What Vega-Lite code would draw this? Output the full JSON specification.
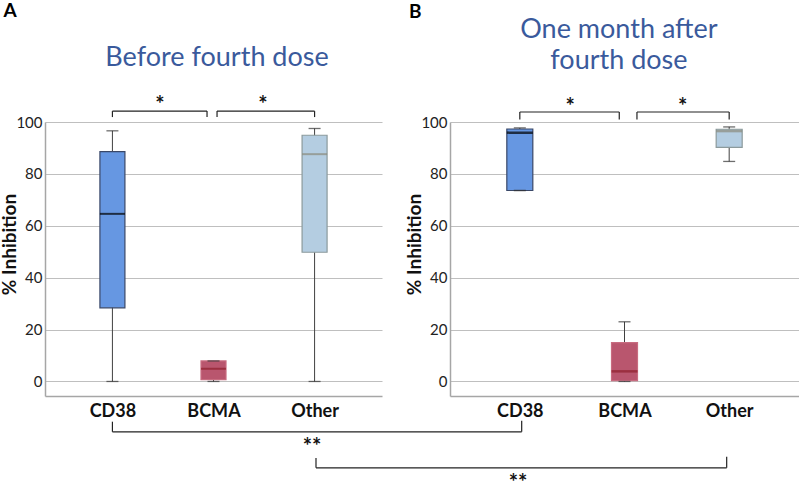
{
  "$schema": "https://vega.github.io/schema/vega-lite/v6.json",
  "background": "white",
  "padding": {"left": 0, "top": 1, "right": 0, "bottom": 0},
  "bounds": "flush",
  "spacing": 68,
  "config": {
    "view": {"stroke": null},
    "font": "Lato",
    "axisY": {
      "values": [0, 20, 40, 60, 80, 100],
      "grid": true, "gridColor": "#bfbfbf", "gridWidth": 1,
      "domainColor": "#a6a6a6", "domainWidth": 1.5,
      "ticks": false, "labelFlush": false,
      "labelFont": "Lato", "labelFontSize": 15, "labelColor": "#222222", "labelPadding": 3,
      "titleFont": "Lato", "titleFontSize": 19, "titleFontWeight": "bold", "titleColor": "#111111",
      "titlePadding": -4, "titleY": 122
    },
    "axisX": {
      "grid": false, "domainColor": "#a6a6a6", "domainWidth": 1.5, "ticks": false,
      "labelFont": "Lato", "labelFontSize": 18, "labelFontWeight": "bold", "labelColor": "#111111",
      "labelPadding": 6, "labelAngle": 0
    }
  },
  "datasets": {
    "boxes": [
      {"panel": "A", "target": "CD38", "min": 0, "q1": 28.4, "median": 64.6, "q3": 88.6, "max": 96.6},
      {"panel": "A", "target": "BCMA", "min": 0, "q1": 0.7, "median": 4.9, "q3": 7.9, "max": 7.9},
      {"panel": "A", "target": "Other", "min": 0, "q1": 49.8, "median": 87.6, "q3": 94.9, "max": 97.5},
      {"panel": "B", "target": "CD38", "min": 73.6, "q1": 73.6, "median": 95.9, "q3": 97.3, "max": 97.7},
      {"panel": "B", "target": "BCMA", "min": 0, "q1": 0.3, "median": 3.9, "q3": 15, "max": 23},
      {"panel": "B", "target": "Other", "min": 84.8, "q1": 90.2, "median": 96.5, "q3": 97.2, "max": 98.1}
    ],
    "segments": [
      {"panel": "A", "x": 0, "x2": 0, "y": 101.9, "y2": 104.2},
      {"panel": "A", "x": 0, "x2": 0.936, "y": 104.2, "y2": 104.2},
      {"panel": "A", "x": 0.936, "x2": 0.936, "y": 104.2, "y2": 101.9},
      {"panel": "A", "x": 1.035, "x2": 1.035, "y": 101.9, "y2": 104.2},
      {"panel": "A", "x": 1.035, "x2": 2, "y": 104.2, "y2": 104.2},
      {"panel": "A", "x": 2, "x2": 2, "y": 104.2, "y2": 101.9},
      {"panel": "A", "x": 0, "x2": 0, "y": -15.5, "y2": -19.4},
      {"panel": "A", "x": 0, "x2": 4.049, "y": -19.4, "y2": -19.4},
      {"panel": "A", "x": 4.049, "x2": 4.049, "y": -19.4, "y2": -15.1},
      {"panel": "A", "x": 2.014, "x2": 2.014, "y": -29.5, "y2": -33.3},
      {"panel": "A", "x": 2.014, "x2": 6.077, "y": -33.3, "y2": -33.3},
      {"panel": "A", "x": 6.077, "x2": 6.077, "y": -33.3, "y2": -29.0},
      {"panel": "B", "x": 0, "x2": 0, "y": 101.0, "y2": 103.85},
      {"panel": "B", "x": 0, "x2": 0.95, "y": 103.85, "y2": 103.85},
      {"panel": "B", "x": 0.95, "x2": 0.95, "y": 103.85, "y2": 101.0},
      {"panel": "B", "x": 1.119, "x2": 1.119, "y": 101.0, "y2": 103.85},
      {"panel": "B", "x": 1.119, "x2": 2, "y": 103.85, "y2": 103.85},
      {"panel": "B", "x": 2, "x2": 2, "y": 103.85, "y2": 101.0}
    ],
    "labels": [
      {"panel": "A", "kind": "title", "x": 1.035, "y": 121.7, "text": "Before fourth dose"},
      {"panel": "A", "kind": "letter", "x": -1.013, "y": 142.8, "text": "A"},
      {"panel": "A", "kind": "star", "x": 0.471, "y": 103.85, "text": "*"},
      {"panel": "A", "kind": "star", "x": 1.49, "y": 103.85, "text": "*"},
      {"panel": "A", "kind": "star", "x": 1.975, "y": -27.8, "text": "**"},
      {"panel": "A", "kind": "star", "x": 4.013, "y": -41.9, "text": "**"},
      {"panel": "B", "kind": "title", "x": 0.947, "y": 132.3, "text": "One month after\nfourth dose"},
      {"panel": "B", "kind": "letter", "x": -1.0, "y": 142.4, "text": "B"},
      {"panel": "B", "kind": "star", "x": 0.48, "y": 102.9, "text": "*"},
      {"panel": "B", "kind": "star", "x": 1.555, "y": 102.9, "text": "*"}
    ]
  },
  "hconcat": [
    {
      "width": 337, "height": 274,
      "resolve": {"scale": {"x": "independent"}, "axis": {"x": "independent"}},
      "layer": [
        {
          "data": {"name": "boxes"},
          "transform": [{"filter": "datum.panel === 'A'"}],
          "encoding": {
            "x": {"field": "target", "type": "nominal", "title": null,
                  "scale": {"type": "point", "domain": ["CD38", "BCMA", "Other"], "padding": 0.667}}
          },
          "layer": [
            {"mark": {"type": "rule", "color": "#404040", "strokeWidth": 1},
             "encoding": {
               "y": {"field": "min", "type": "quantitative", "title": "% Inhibition",
                     "scale": {"domain": [-5.6, 100], "nice": false, "zero": false}},
               "y2": {"field": "max"}}},
            {"mark": {"type": "bar", "width": 25, "strokeWidth": 1.2},
             "encoding": {
               "y": {"field": "q1", "type": "quantitative", "title": "% Inhibition"},
               "y2": {"field": "q3"},
               "fill": {"field": "target", "type": "nominal", "legend": null,
                        "scale": {"domain": ["CD38", "BCMA", "Other"], "range": ["#6697e2", "#b9566e", "#b4cde1"]}},
               "stroke": {"field": "target", "type": "nominal", "legend": null,
                          "scale": {"domain": ["CD38", "BCMA", "Other"], "range": ["#3a4868", "#c86c80", "#8c9a9c"]}}}},
            {"mark": {"type": "tick", "size": 25, "thickness": 2},
             "encoding": {
               "y": {"field": "median", "type": "quantitative", "title": "% Inhibition"},
               "color": {"field": "target", "type": "nominal", "legend": null,
                         "scale": {"domain": ["CD38", "BCMA", "Other"], "range": ["#000000", "#8e1f2c", "#8a8a7c"]}}}},
            {"mark": {"type": "tick", "size": 12, "thickness": 1.3, "color": "#303030"},
             "encoding": {"y": {"field": "max", "type": "quantitative", "title": "% Inhibition"}}},
            {"mark": {"type": "tick", "size": 12, "thickness": 1.3, "color": "#303030"},
             "encoding": {"y": {"field": "min", "type": "quantitative", "title": "% Inhibition"}}}
          ]
        },
        {
          "data": {"name": "segments"},
          "transform": [{"filter": "datum.panel === 'A'"}],
          "mark": {"type": "rule", "clip": false, "color": "#222222", "strokeWidth": 1.2},
          "encoding": {
            "x": {"field": "x", "type": "quantitative", "axis": null,
                  "scale": {"domain": [-0.667, 2.667], "nice": false, "zero": false}},
            "x2": {"field": "x2"},
            "y": {"field": "y", "type": "quantitative", "title": "% Inhibition",
                  "scale": {"domain": [-5.6, 100], "nice": false, "zero": false}},
            "y2": {"field": "y2"}
          }
        },
        {
          "data": {"name": "labels"},
          "transform": [{"filter": "datum.panel === 'A'"}],
          "encoding": {
            "x": {"field": "x", "type": "quantitative", "axis": null,
                  "scale": {"domain": [-0.667, 2.667], "nice": false, "zero": false}},
            "y": {"field": "y", "type": "quantitative", "title": "% Inhibition",
                  "scale": {"domain": [-5.6, 100], "nice": false, "zero": false}},
            "text": {"field": "text"}
          },
          "layer": [
            {"transform": [{"filter": "datum.kind === 'title'"}],
             "mark": {"type": "text", "clip": false, "font": "Lato", "fontSize": 27, "color": "#3a5a9c",
                      "align": "center", "baseline": "alphabetic", "lineBreak": "\n", "lineHeight": 31}},
            {"transform": [{"filter": "datum.kind === 'letter'"}],
             "mark": {"type": "text", "clip": false, "font": "Lato", "fontSize": 19, "fontWeight": "bold",
                      "color": "#000000", "align": "center", "baseline": "middle"}},
            {"transform": [{"filter": "datum.kind === 'star'"}],
             "mark": {"type": "text", "clip": false, "font": "Lato", "fontSize": 22, "fontWeight": "bold",
                      "color": "#111111", "align": "center", "baseline": "alphabetic"}}
          ]
        }
      ]
    },
    {
      "width": 349, "height": 274,
      "resolve": {"scale": {"x": "independent"}, "axis": {"x": "independent"}},
      "layer": [
        {
          "data": {"name": "boxes"},
          "transform": [{"filter": "datum.panel === 'B'"}],
          "encoding": {
            "x": {"field": "target", "type": "nominal", "title": null,
                  "scale": {"type": "point", "domain": ["CD38", "BCMA", "Other"], "padding": 0.667}}
          },
          "layer": [
            {"mark": {"type": "rule", "color": "#404040", "strokeWidth": 1},
             "encoding": {
               "y": {"field": "min", "type": "quantitative", "title": "% Inhibition",
                     "scale": {"domain": [-5.6, 100], "nice": false, "zero": false}},
               "y2": {"field": "max"}}},
            {"mark": {"type": "bar", "width": 26, "strokeWidth": 1.2},
             "encoding": {
               "y": {"field": "q1", "type": "quantitative", "title": "% Inhibition"},
               "y2": {"field": "q3"},
               "fill": {"field": "target", "type": "nominal", "legend": null,
                        "scale": {"domain": ["CD38", "BCMA", "Other"], "range": ["#6697e2", "#b9566e", "#b4cde1"]}},
               "stroke": {"field": "target", "type": "nominal", "legend": null,
                          "scale": {"domain": ["CD38", "BCMA", "Other"], "range": ["#2e3a58", "#9a3e5c", "#6e7c80"]}}}},
            {"mark": {"type": "tick", "size": 26, "thickness": 2.5},
             "encoding": {
               "y": {"field": "median", "type": "quantitative", "title": "% Inhibition"},
               "color": {"field": "target", "type": "nominal", "legend": null,
                         "scale": {"domain": ["CD38", "BCMA", "Other"], "range": ["#000000", "#a02030", "#8a8a7c"]}}}},
            {"mark": {"type": "tick", "size": 12, "thickness": 1.3, "color": "#303030"},
             "encoding": {"y": {"field": "max", "type": "quantitative", "title": "% Inhibition"}}},
            {"mark": {"type": "tick", "size": 12, "thickness": 1.3, "color": "#303030"},
             "encoding": {"y": {"field": "min", "type": "quantitative", "title": "% Inhibition"}}}
          ]
        },
        {
          "data": {"name": "segments"},
          "transform": [{"filter": "datum.panel === 'B'"}],
          "mark": {"type": "rule", "clip": false, "color": "#222222", "strokeWidth": 1.2},
          "encoding": {
            "x": {"field": "x", "type": "quantitative", "axis": null,
                  "scale": {"domain": [-0.667, 2.667], "nice": false, "zero": false}},
            "x2": {"field": "x2"},
            "y": {"field": "y", "type": "quantitative", "title": "% Inhibition",
                  "scale": {"domain": [-5.6, 100], "nice": false, "zero": false}},
            "y2": {"field": "y2"}
          }
        },
        {
          "data": {"name": "labels"},
          "transform": [{"filter": "datum.panel === 'B'"}],
          "encoding": {
            "x": {"field": "x", "type": "quantitative", "axis": null,
                  "scale": {"domain": [-0.667, 2.667], "nice": false, "zero": false}},
            "y": {"field": "y", "type": "quantitative", "title": "% Inhibition",
                  "scale": {"domain": [-5.6, 100], "nice": false, "zero": false}},
            "text": {"field": "text"}
          },
          "layer": [
            {"transform": [{"filter": "datum.kind === 'title'"}],
             "mark": {"type": "text", "clip": false, "font": "Lato", "fontSize": 27, "color": "#3a5a9c",
                      "align": "center", "baseline": "alphabetic", "lineBreak": "\n", "lineHeight": 31}},
            {"transform": [{"filter": "datum.kind === 'letter'"}],
             "mark": {"type": "text", "clip": false, "font": "Lato", "fontSize": 19, "fontWeight": "bold",
                      "color": "#000000", "align": "center", "baseline": "middle"}},
            {"transform": [{"filter": "datum.kind === 'star'"}],
             "mark": {"type": "text", "clip": false, "font": "Lato", "fontSize": 22, "fontWeight": "bold",
                      "color": "#111111", "align": "center", "baseline": "alphabetic"}}
          ]
        }
      ]
    }
  ]
}
